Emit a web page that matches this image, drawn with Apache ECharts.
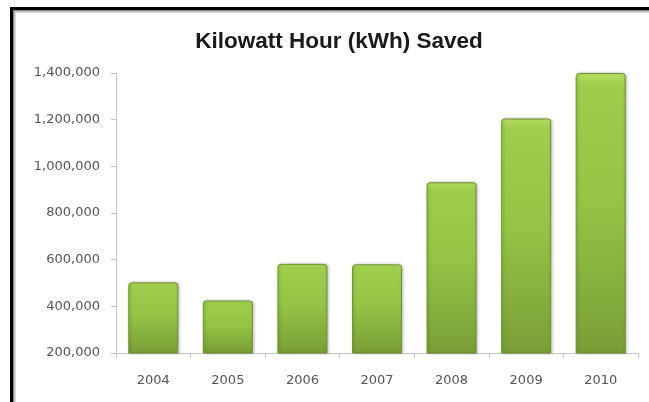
<!DOCTYPE html>
<html>
<head>
<meta charset="utf-8">
<script src="https://cdn.jsdelivr.net/npm/echarts@6/dist/echarts.min.js"></script>
<style>html,body{margin:0;padding:0;background:#fff;}#c{width:649px;height:402px;}</style>
</head>
<body>
<div id="c"></div>
<script>
const titleText = 'Kilowatt Hour (kWh) Saved';
const categories = ['2004', '2005', '2006', '2007', '2008', '2009', '2010'];
const savedKwh = [503000, 425000, 582000, 580000, 932000, 1205000, 1400000];
const yTicks = [200000, 400000, 600000, 800000, 1000000, 1200000, 1400000];

const chart = echarts.init(document.getElementById('c'), null, {renderer: 'canvas'});
const fmt = v => v.toLocaleString('en-US');
chart.setOption({
  animation: false,
  backgroundColor: '#ffffff',
  title: {
    text: titleText,
    left: 334, top: 25, textAlign: 'center',
    textStyle: {fontFamily: 'Liberation Sans', fontWeight: 'bold', fontSize: 22.5, color: '#1a1a1a'}
  },
  graphic: [
    {type: 'rect', shape: {x: 11.5, y: 8.5, width: 800, height: 600}, style: {fill: null, stroke: '#000', lineWidth: 3}, silent: true},
    {type: 'rect', shape: {x: 13.75, y: 10.75, width: 800, height: 600}, style: {fill: null, stroke: '#8a8a8a', lineWidth: 1.5}, silent: true},
    {type: 'rect', shape: {x: 15.5, y: 12.5, width: 800, height: 600}, style: {fill: null, stroke: '#d8d8d8', lineWidth: 1}, silent: true}
  ],
  grid: {left: 116, right: 11, top: 73, bottom: 49, containLabel: false},
  xAxis: {
    type: 'category',
    data: categories,
    axisLine: {show: true, lineStyle: {color: '#c4c4c4', width: 1}},
    axisTick: {show: true, alignWithLabel: false, length: 5, lineStyle: {color: '#c4c4c4'}},
    axisLabel: {margin: 21, fontFamily: 'DejaVu Sans', fontSize: 13, color: '#555'}
  },
  yAxis: {
    type: 'value',
    min: yTicks[0], max: yTicks[yTicks.length - 1], interval: 200000,
    axisLine: {show: true, lineStyle: {color: '#c4c4c4', width: 1}},
    axisTick: {show: true, length: 5, lineStyle: {color: '#c4c4c4'}},
    splitLine: {show: false},
    axisLabel: {margin: 16, fontFamily: 'DejaVu Sans', fontSize: 13, color: '#555', formatter: fmt}
  },
  series: [{
    type: 'bar',
    data: savedKwh,
    barWidth: 50,
    itemStyle: {
      color: new echarts.graphic.LinearGradient(0, 0, 0, 1, [
        {offset: 0, color: '#c2e46e'},
        {offset: 0.015, color: '#b0da5c'},
        {offset: 0.04, color: '#9fcd4c'},
        {offset: 0.45, color: '#95c446'},
        {offset: 1, color: '#7a9e37'}
      ]),
      borderColor: '#6f9430',
      borderWidth: 1,
      borderRadius: [3, 3, 0, 0],
      shadowColor: 'rgba(0,0,0,0.25)',
      shadowBlur: 3,
      shadowOffsetX: 1
    }
  }]
});
</script>
</body>
</html>
